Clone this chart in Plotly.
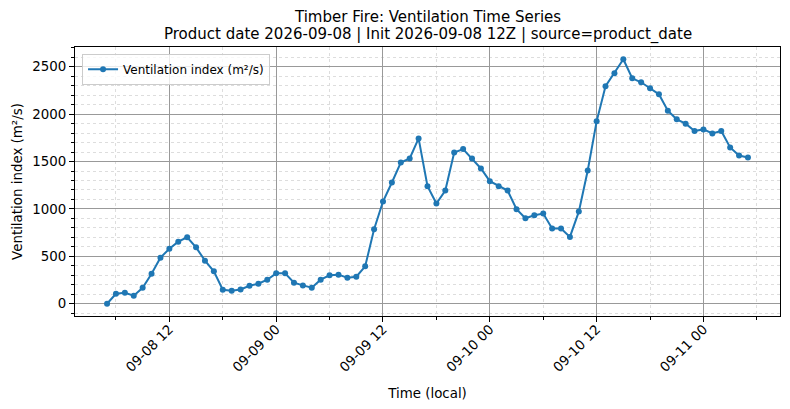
import pandas as pd
import plotly.graph_objects as go

# hourly ventilation index, local time, starting 2026-09-08 05:00
start_time = "2026-09-08 05:00"
vent_index = [
    0, 106, 117, 85, 169, 317, 486, 581, 655, 701, 595, 455, 342, 148, 137, 151, 190, 211, 254,
    321, 321, 222, 194, 169, 254, 300, 307, 275, 285, 395, 786, 1078, 1279, 1490, 1533, 1744,
    1240, 1057, 1194, 1596, 1631, 1533, 1427,
    1293, 1240, 1194, 997, 902, 934, 951, 793, 793, 705, 972, 1406, 1924, 2294, 2431, 2579,
    2378, 2336, 2273, 2209, 2036, 1945, 1899, 1822,
    1839, 1797, 1822, 1649, 1564, 1543,
]
times = pd.date_range(start_time, periods=len(vent_index), freq="h")

title_lines = ["Timber Fire: Ventilation Time Series",
               "Product date 2026-09-08 | Init 2026-09-08 12Z | source=product_date"]
series_name = "Ventilation index (m²/s)"

FONT = "DejaVu Sans"
BLUE = "#1f77b4"

fig = go.Figure()
fig.add_trace(go.Scatter(x=times, y=vent_index, mode="lines+markers", name=series_name,
                         line=dict(color=BLUE, width=2), marker=dict(color=BLUE, size=6)))

# matplotlib-like 5% padding
span = times[-1] - times[0]
xr = [times[0] - span * 0.05, times[-1] + span * 0.05]
ymax = max(vent_index)
yr = [-0.05 * ymax, ymax * 1.05]

# page body has an 8px margin, so the figure is a bit smaller than the window
fig.update_layout(
    width=774, height=393,
    margin=dict(l=67, r=2, t=39, b=85),
    paper_bgcolor="white", plot_bgcolor="white",
    font=dict(family=FONT, size=13.4, color="black"),
    showlegend=True,
    legend=dict(x=0.01, y=0.975, xanchor="left", yanchor="top", bgcolor="rgba(255,255,255,0.8)",
                bordercolor="#cccccc", borderwidth=1, font=dict(size=12)),
)
# two-line title above the plot area
for i, line in enumerate(reversed(title_lines)):
    fig.add_annotation(text=line, xref="paper", yref="paper", x=0.5, y=1,
                       xanchor="center", yanchor="bottom", yshift=1 + 18 * i, showarrow=False,
                       font=dict(size=15))

fig.update_xaxes(
    range=xr, type="date", tick0="2026-09-08 00:00", dtick=12 * 3600 * 1000,
    tickformat="%m-%d %H", tickangle=-45, ticks="outside", ticklen=5, tickcolor="black",
    ticklabelstandoff=-6,
    showline=True, linecolor="black", linewidth=1, mirror=True, automargin=False,
    showgrid=True, gridcolor="#999999", gridwidth=0.8,
    minor=dict(dtick=6 * 3600 * 1000, ticks="outside", ticklen=3, tickcolor="black",
               showgrid=True, gridcolor="#dddddd", griddash="dot", gridwidth=0.6),
    title=dict(text="Time (local)", standoff=14, font=dict(size=13.4)),
    zeroline=False,
)
fig.update_yaxes(
    range=yr, tick0=0, dtick=500, ticks="outside", ticklen=5, tickcolor="black",
    showline=True, linecolor="black", linewidth=1, mirror=True, automargin=False,
    showgrid=True, gridcolor="#999999", gridwidth=0.8,
    minor=dict(dtick=100, ticks="outside", ticklen=3, tickcolor="black",
               showgrid=True, gridcolor="#dddddd", griddash="dot", gridwidth=0.6),
    title=dict(text=series_name, standoff=6, font=dict(size=13.4)),
    zeroline=False,
)

fig.write_html("out.html")
